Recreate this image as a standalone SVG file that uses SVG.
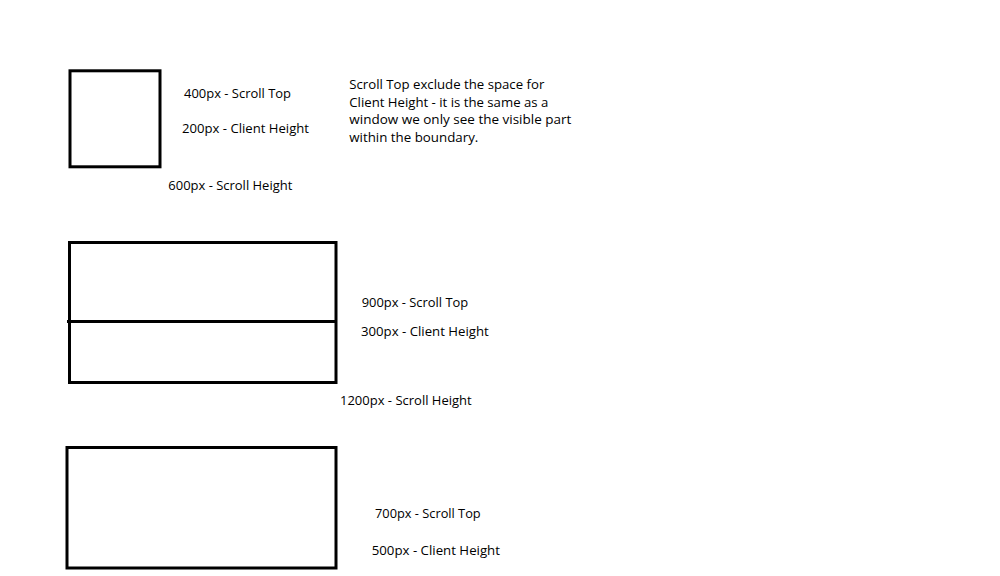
<svg xmlns="http://www.w3.org/2000/svg" width="1000" height="576" viewBox="0 0 1000 576">
<style>
.box{fill:none;stroke:#000;stroke-width:3}
text{font-family:"Open Sans","Liberation Sans",sans-serif;font-size:13px;fill:#000}
</style>
<rect width="1000" height="576" fill="#fff"/>
<g id="box1">
<rect class="box" x="70" y="70.8" width="90" height="96"/>
<text x="184" y="98" textLength="107" lengthAdjust="spacingAndGlyphs">400px - Scroll Top</text>
<text x="182" y="133.3" textLength="127" lengthAdjust="spacingAndGlyphs">200px - Client Height</text>
<text x="168.3" y="190" textLength="124" lengthAdjust="spacingAndGlyphs">600px - Scroll Height</text>
</g>
<g id="note">
<text x="349.3" y="89" textLength="195" lengthAdjust="spacingAndGlyphs">Scroll Top exclude the space for</text>
<text x="349.3" y="106.5" textLength="199" lengthAdjust="spacingAndGlyphs">Client Height - it is the same as a</text>
<text x="349.3" y="124" textLength="222" lengthAdjust="spacingAndGlyphs">window we only see the visible part</text>
<text x="349.3" y="141.5" textLength="129" lengthAdjust="spacingAndGlyphs">within the boundary.</text>
</g>
<g id="box2">
<rect class="box" x="69.5" y="242.5" width="266.5" height="140"/>
<line x1="67" y1="321.5" x2="336" y2="321.5" stroke="#000" stroke-width="3"/>
<text x="361.7" y="307.3" textLength="106.5" lengthAdjust="spacingAndGlyphs">900px - Scroll Top</text>
<text x="361" y="336.3" textLength="127.7" lengthAdjust="spacingAndGlyphs">300px - Client Height</text>
<text x="340" y="405.3" textLength="131.7" lengthAdjust="spacingAndGlyphs">1200px - Scroll Height</text>
</g>
<g id="box3">
<rect class="box" x="67" y="447.5" width="269" height="120.5"/>
<text x="375" y="518.3" textLength="105.7" lengthAdjust="spacingAndGlyphs">700px - Scroll Top</text>
<text x="371.7" y="555" textLength="128.3" lengthAdjust="spacingAndGlyphs">500px - Client Height</text>
</g>
</svg>
